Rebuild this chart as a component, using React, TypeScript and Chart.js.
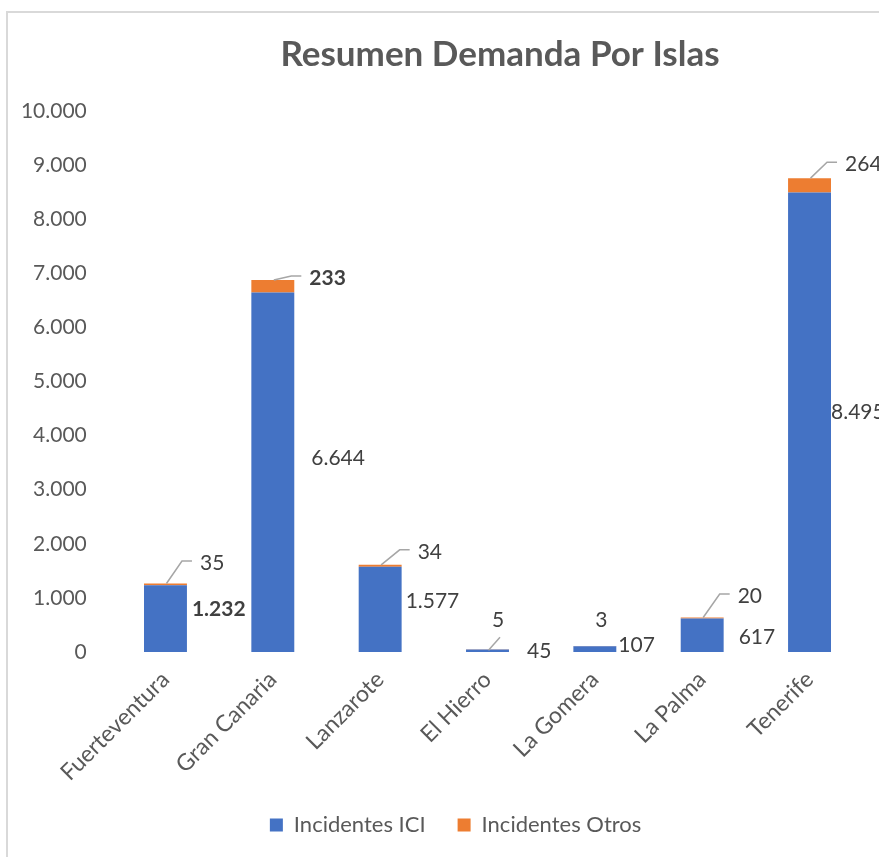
import React, { useEffect, useRef } from "react";
import { Chart, registerables } from "chart.js";

Chart.register(...registerables);

// ---- data ----
const categories = ["Fuerteventura", "Gran Canaria", "Lanzarote", "El Hierro", "La Gomera", "La Palma", "Tenerife"];
const iciValues = [1232, 6644, 1577, 45, 107, 617, 8495];
const otrosValues = [35, 233, 34, 5, 3, 20, 264];
const seriesNames = ["Incidentes ICI", "Incidentes Otros"];
const yMin = 0;
const yMax = 10000;
const yStep = 1000;
const chartTitle = "Resumen Demanda Por Islas";
const boldIciLabels = [true, false, false, false, false, false, false];
const boldOtrosLabels = [false, true, false, false, false, false, false];

// ---- styling ----
const FONT = "Lato, 'Open Sans', sans-serif";
const BLUE = "#4472C4";
const ORANGE = "#ED7D31";
const AXIS_TEXT = "#595959";
const LABEL_TEXT = "#404040";
const LEADER = "#A6A6A6";
const LEGEND_LEFT = 48;
// ICI label nudges: [dx from bar right edge, dy from bar middle]
const iciLabelNudge: [number, number][] = [
  [5, -9], [17, -14], [4, -8], [18, 0], [2, -4], [15, 2], [0, -10],
];
// Otros label nudges: [dx from bar centre to label left, dy from segment top to label centre, leader type]
const otrosLabelNudge: [number, number, string][] = [
  [34.5, -20.5, "elbow"], [36.5, -2, "elbow"], [37.5, -13, "elbow"], [4.5, -29, "diag"],
  [0.5, -26, "none"], [35.5, -21.5, "elbow"], [35.5, -14, "elbow"],
];

function fmt(v: number): string {
  return String(Math.round(v)).replace(/\B(?=(\d{3})+(?!\d))/g, ".");
}

const decorPlugin = {
  id: "decor",
  afterLayout(chart: any) {
    if (chart.legend) {
      chart.legend.left = LEGEND_LEFT;
      chart.legend.width = chart.legend.right - LEGEND_LEFT;
    }
  },
  beforeDraw(chart: any) {
    const ctx = chart.ctx;
    ctx.save();
    ctx.strokeStyle = "#D9D9D9";
    ctx.lineWidth = 2;
    ctx.beginPath();
    ctx.moveTo(7, chart.height + 5);
    ctx.lineTo(7, 12);
    ctx.lineTo(chart.width + 5, 12);
    ctx.stroke();
    // title
    ctx.fillStyle = AXIS_TEXT;
    ctx.font = `bold 35px ${FONT}`;
    ctx.textAlign = "center";
    ctx.textBaseline = "middle";
    ctx.fillText(chartTitle, 500, 55);
    ctx.restore();
  },
  afterDatasetsDraw(chart: any) {
    const ctx = chart.ctx;
    ctx.save();
    ctx.textBaseline = "middle";
    ctx.textAlign = "left";
    const metaIci = chart.getDatasetMeta(0);
    const metaOtros = chart.getDatasetMeta(1);
    metaIci.data.forEach((el: any, i: number) => {
      const [dx, dy] = iciLabelNudge[i];
      ctx.font = `${boldIciLabels[i] ? "bold " : ""}21px ${FONT}`;
      ctx.fillStyle = LABEL_TEXT;
      const x = el.x + el.width / 2 + dx;
      const y = (el.y + el.base) / 2 + dy;
      ctx.fillText(fmt(iciValues[i]), x, y);
    });
    metaOtros.data.forEach((el: any, i: number) => {
      const [dx, dy, type] = otrosLabelNudge[i];
      const cx = el.x;
      const top = el.y;
      const lx = cx + dx;
      const ly = top + dy;
      ctx.strokeStyle = LEADER;
      ctx.lineWidth = 1.5;
      if (type === "elbow") {
        ctx.beginPath();
        ctx.moveTo(cx + 1, top);
        ctx.lineTo(lx - 18, ly - 2);
        ctx.lineTo(lx - 8, ly - 2);
        ctx.stroke();
      } else if (type === "diag") {
        ctx.beginPath();
        ctx.moveTo(cx + 1, top + 1);
        ctx.lineTo(lx + 8, ly + 17);
        ctx.stroke();
      }
      ctx.font = `${boldOtrosLabels[i] ? "bold " : ""}21px ${FONT}`;
      ctx.fillStyle = LABEL_TEXT;
      ctx.fillText(fmt(otrosValues[i]), lx, ly);
    });
    ctx.restore();
  },
};

export default function App() {
  const ref = useRef<HTMLCanvasElement | null>(null);
  useEffect(() => {
    if (!ref.current) return;
    const chart = new Chart(ref.current, {
      type: "bar",
      data: {
        labels: categories,
        datasets: [
          { label: seriesNames[0], data: iciValues, backgroundColor: BLUE, borderWidth: 0 },
          { label: seriesNames[1], data: otrosValues, backgroundColor: ORANGE, borderWidth: 0 },
        ],
      },
      options: {
        responsive: false,
        animation: false,
        devicePixelRatio: 1,
        datasets: { bar: { categoryPercentage: 1, barPercentage: 0.4 } },
        layout: { padding: { top: 111, left: 0, right: 15.8, bottom: 11 } },
        plugins: {
          title: { display: false },
          tooltip: { enabled: false },
          legend: {
            position: "bottom",
            labels: {
              boxWidth: 13,
              boxHeight: 13,
              padding: 32,
              color: AXIS_TEXT,
              font: { family: FONT, size: 22 },
            },
          },
        },
        scales: {
          x: {
            stacked: true,
            grid: { display: false },
            border: { display: false },
            ticks: {
              color: AXIS_TEXT,
              font: { family: FONT, size: 23 },
              minRotation: 45,
              maxRotation: 45,
              padding: 6,
            },
            afterFit: (s: any) => { s.height = 130; },
          },
          y: {
            stacked: true,
            min: yMin,
            max: yMax,
            grid: { display: false },
            border: { display: false },
            ticks: {
              stepSize: yStep,
              color: AXIS_TEXT,
              font: { family: FONT, size: 21 },
              padding: 17,
              callback: (v: any) => fmt(Number(v)),
            },
            afterFit: (s: any) => { s.width = 111.8; },
          },
        },
      },
      plugins: [decorPlugin],
    });
    return () => chart.destroy();
  }, []);
  return (
    <div style={{ position: "absolute", left: 0, top: 0, width: 879, height: 857, overflow: "hidden", background: "#fff" }}>
      <canvas ref={ref} width={879} height={857} style={{ display: "block" }} />
    </div>
  );
}
